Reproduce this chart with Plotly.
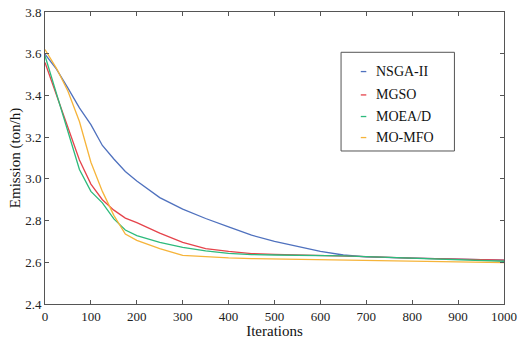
import plotly.graph_objects as go

iterations = [0, 25, 50, 75, 100, 125, 150, 175, 200, 250, 300, 350, 400, 450, 500, 550, 600, 650, 700, 800, 900, 1000]
nsga2 = [3.598, 3.526, 3.435, 3.34, 3.26, 3.16, 3.095, 3.035, 2.99, 2.91, 2.855, 2.81, 2.77, 2.73, 2.70, 2.675, 2.652, 2.635, 2.626, 2.62, 2.615, 2.61]
mgso = [3.558, 3.40, 3.25, 3.09, 2.975, 2.90, 2.85, 2.812, 2.79, 2.74, 2.695, 2.666, 2.652, 2.642, 2.638, 2.636, 2.634, 2.632, 2.627, 2.62, 2.615, 2.61]
moead = [3.59, 3.41, 3.23, 3.045, 2.94, 2.885, 2.808, 2.755, 2.728, 2.695, 2.672, 2.655, 2.643, 2.637, 2.635, 2.634, 2.633, 2.631, 2.627, 2.62, 2.613, 2.605]
momfo = [3.62, 3.53, 3.42, 3.275, 3.08, 2.94, 2.825, 2.735, 2.705, 2.665, 2.633, 2.626, 2.621, 2.618, 2.616, 2.614, 2.612, 2.611, 2.61, 2.606, 2.602, 2.598]

names = ["NSGA-II", "MGSO", "MOEA/D", "MO-MFO"]
series = [nsga2, mgso, moead, momfo]
colors = ["#4f71be", "#e5434b", "#2dba7c", "#f6b43a"]

x_ticks = [0, 100, 200, 300, 400, 500, 600, 700, 800, 900, 1000]
y_ticks = [2.4, 2.6, 2.8, 3.0, 3.2, 3.4, 3.6, 3.8]

FONT = "Liberation Serif"

fig = go.Figure()
for name, ys, c in zip(names, series, colors):
    fig.add_trace(go.Scatter(x=iterations, y=ys, mode="lines", name=name,
                             line=dict(color=c, width=1.3), showlegend=False))

# manual legend (short dash symbols, boxed)
shapes = [dict(type="rect", xref="paper", yref="paper", x0=0.645, x1=0.892, y0=0.524, y1=0.862,
               line=dict(color="#555555", width=1), fillcolor="white", layer="above")]
annotations = []
legend_y = [0.796, 0.716, 0.642, 0.570]
for name, c, ly in zip(names, colors, legend_y):
    shapes.append(dict(type="line", xref="paper", yref="paper", x0=0.688, x1=0.700, y0=ly, y1=ly,
                       line=dict(color=c, width=1.3), layer="above"))
    annotations.append(dict(xref="paper", yref="paper", x=0.717, y=ly, text=name, showarrow=False,
                            xanchor="left", yanchor="middle", font=dict(family=FONT, size=14, color="#111111")))

axis_common = dict(showline=True, linecolor="#555555", linewidth=1, mirror="ticks", ticks="inside",
                   ticklen=4, tickcolor="#555555", showgrid=False, zeroline=False, automargin=False,
                   tickfont=dict(family=FONT, size=13, color="#222222"))

fig.update_layout(
    width=518, height=339,
    margin=dict(l=45, r=14, t=12, b=35),
    paper_bgcolor="white", plot_bgcolor="white",
    font=dict(family=FONT),
    shapes=shapes, annotations=annotations,
    xaxis=dict(range=[0, 1000], tickvals=x_ticks, ticktext=[str(v) for v in x_ticks],
               title=dict(text="Iterations", font=dict(family=FONT, size=15, color="#111111"), standoff=0),
               **axis_common),
    yaxis=dict(range=[2.4, 3.8], tickvals=y_ticks, ticktext=[f"{v:.1f}" for v in y_ticks],
               title=dict(text="Emission (ton/h)", font=dict(family=FONT, size=15, color="#111111"), standoff=0),
               **axis_common),
)

fig.write_html("out.html", config={"displayModeBar": False},
               post_script="document.body.style.margin='0';document.body.style.overflow='hidden';")
